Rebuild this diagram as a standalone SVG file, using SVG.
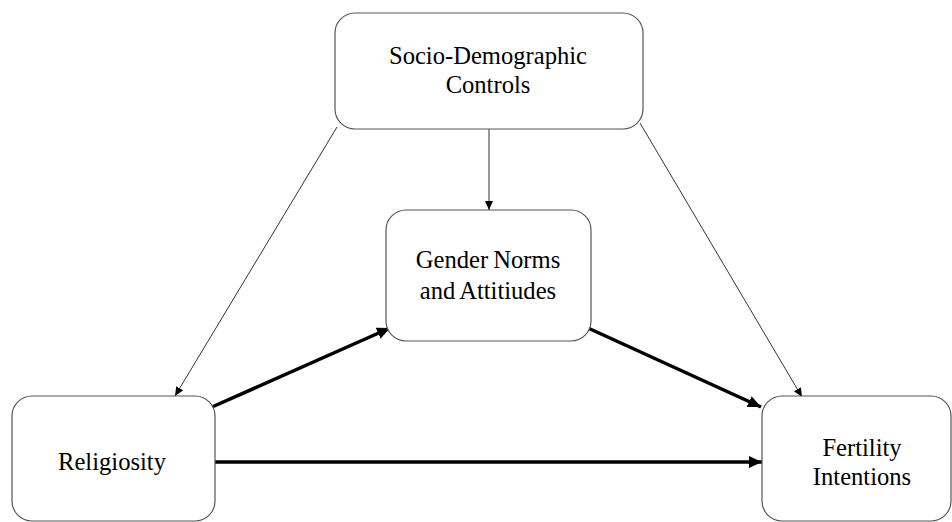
<svg xmlns="http://www.w3.org/2000/svg" width="952" height="522" viewBox="0 0 952 522">
<style>
.box{fill:#fff;stroke:#555;stroke-width:1.2}
.lbl{font-family:'Liberation Serif',Tinos,'DejaVu Serif',serif;font-size:24.6px;fill:#000;text-anchor:middle}
.thin{stroke:#333;stroke-width:1;fill:none}
.thick{stroke:#000;stroke-width:3.5;fill:none}
</style>
<defs>
<marker id="ahThin" markerUnits="userSpaceOnUse" markerWidth="10" markerHeight="8" refX="9" refY="4" orient="auto">
<path d="M0,0 L9,4 L0,8 Z" fill="#000"/>
</marker>
<marker id="ahThick" markerUnits="userSpaceOnUse" markerWidth="14" markerHeight="12" refX="13" refY="6" orient="auto">
<path d="M0,0 L13,6 L0,12 Z" fill="#000"/>
</marker>
</defs>
<rect width="952" height="522" fill="#fff"/>
<g id="connectors">
<line class="thin" x1="489" y1="129" x2="489" y2="210" marker-end="url(#ahThin)"/>
<line class="thin" x1="337" y1="127" x2="175" y2="396" marker-end="url(#ahThin)"/>
<line class="thin" x1="640" y1="123" x2="802" y2="397" marker-end="url(#ahThin)"/>
<line class="thick" x1="212" y1="407" x2="390" y2="328" marker-end="url(#ahThick)"/>
<line class="thick" x1="588" y1="328" x2="761" y2="407" marker-end="url(#ahThick)"/>
<line class="thick" x1="215" y1="462" x2="762" y2="462" marker-end="url(#ahThick)"/>
</g>
<g id="socio">
<rect class="box" x="335" y="13" width="308" height="116" rx="20"/>
<text class="lbl" font-family="Liberation Serif, serif" x="488" y="64">Socio-Demographic</text>
<text class="lbl" font-family="Liberation Serif, serif" x="488" y="93">Controls</text>
</g>
<g id="gender">
<rect class="box" x="386" y="210" width="205" height="131" rx="20"/>
<text class="lbl" font-family="Liberation Serif, serif" x="488" y="268" word-spacing="-1">Gender Norms</text>
<text class="lbl" font-family="Liberation Serif, serif" x="488" y="299" word-spacing="-1">and Attitiudes</text>
</g>
<g id="religiosity">
<rect class="box" x="12" y="396" width="203" height="125" rx="20"/>
<text class="lbl" font-family="Liberation Serif, serif" x="112" y="470">Religiosity</text>
</g>
<g id="fertility">
<rect class="box" x="762" y="396" width="189" height="125" rx="20"/>
<text class="lbl" font-family="Liberation Serif, serif" x="862" y="456">Fertility</text>
<text class="lbl" font-family="Liberation Serif, serif" x="862" y="485">Intentions</text>
</g>
</svg>
